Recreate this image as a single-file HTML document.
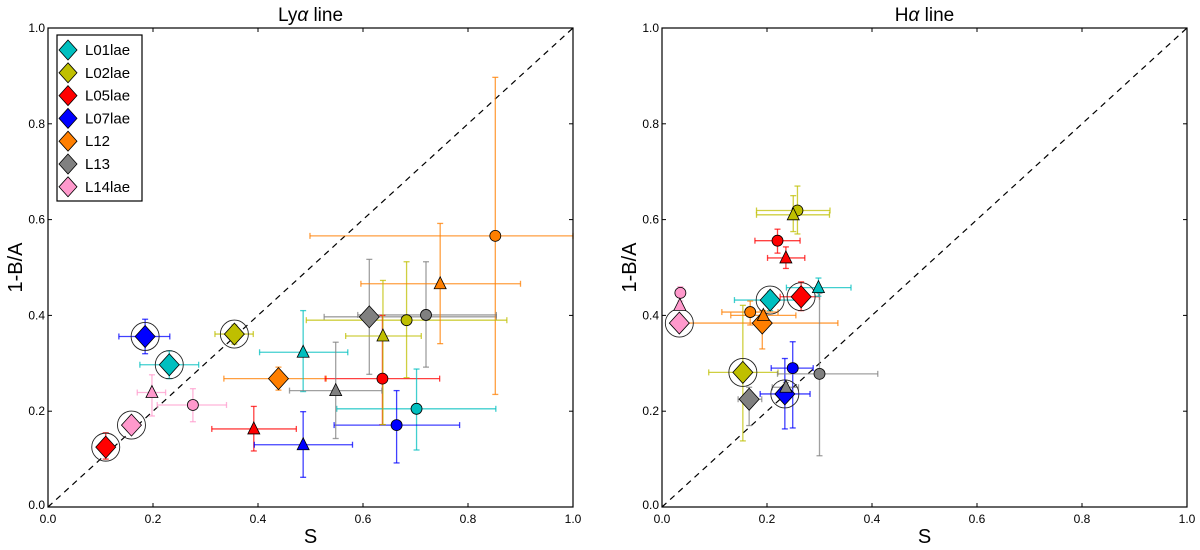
<!DOCTYPE html>
<html><head><meta charset="utf-8"><style>
body{margin:0;background:#fff;width:1200px;height:545px;overflow:hidden}
svg{font-family:"Liberation Sans","DejaVu Sans",sans-serif}
</style></head><body>
<svg id="chart" width="1200" height="545"></svg>
<script>
const groups=["L01lae","L02lae","L05lae","L07lae","L12","L13","L14lae"];
const colors={"L01lae":"#00bfbf","L02lae":"#bfbf00","L05lae":"#ff0000","L07lae":"#0000ff","L12":"#ff7f00","L13":"#808080","L14lae":"#ff99cc"};
const ticks=[0,0.2,0.4,0.6,0.8,1.0];
const tickLabels=["0.0","0.2","0.4","0.6","0.8","1.0"];
// Ly-alpha panel
const lyaGroup=["L01lae","L02lae","L05lae","L07lae","L12","L13","L14lae","L12","L02lae","L13","L05lae","L01lae","L07lae","L14lae","L12","L02lae","L01lae","L13","L05lae","L07lae","L14lae"];
const lyaMarker=["D","D","D","D","D","D","D","o","o","o","o","o","o","o","^","^","^","^","^","^","^"];
const lyaCircled=[1,1,1,1,0,0,1,0,0,0,0,0,0,0,0,0,0,0,0,0,0];
const lyaX=[0.231,0.355,0.110,0.185,0.439,0.612,0.159,0.852,0.683,0.720,0.637,0.702,0.664,0.276,0.747,0.638,0.486,0.548,0.392,0.486,0.198];
const lyaY=[0.297,0.361,0.125,0.356,0.268,0.397,0.171,0.566,0.390,0.401,0.268,0.205,0.171,0.213,0.466,0.357,0.323,0.243,0.163,0.130,0.239];
const lyaXlo=[0.175,0.318,0.110,0.135,0.335,0.526,0.159,0.499,0.492,0.590,0.528,0.550,0.545,0.208,0.596,0.567,0.403,0.460,0.312,0.393,0.170];
const lyaXhi=[0.287,0.391,0.110,0.232,0.530,0.854,0.159,1.000,0.874,0.854,0.746,0.853,0.784,0.340,0.900,0.711,0.571,0.636,0.473,0.580,0.224];
const lyaYlo=[0.268,0.340,0.100,0.320,0.244,0.277,0.171,0.235,0.270,0.292,0.172,0.119,0.092,0.178,0.341,0.172,0.241,0.143,0.117,0.062,0.190];
const lyaYhi=[0.326,0.380,0.155,0.392,0.292,0.517,0.171,0.897,0.512,0.512,0.400,0.288,0.243,0.247,0.592,0.473,0.410,0.344,0.210,0.199,0.276];
// H-alpha panel
const haGroup=["L01lae","L02lae","L05lae","L07lae","L12","L13","L14lae","L02lae","L05lae","L14lae","L12","L07lae","L13","L02lae","L05lae","L01lae","L14lae","L12","L13"];
const haMarker=["D","D","D","D","D","D","D","o","o","o","o","o","o","^","^","^","^","^","^"];
const haCircled=[1,1,1,1,0,0,1,0,0,0,0,0,0,0,0,0,0,0,0];
const haX=[0.206,0.154,0.265,0.234,0.191,0.166,0.033,0.258,0.220,0.035,0.168,0.249,0.300,0.250,0.236,0.298,0.034,0.193,0.236];
const haY=[0.432,0.281,0.439,0.236,0.384,0.225,0.384,0.619,0.556,0.447,0.407,0.290,0.278,0.610,0.520,0.458,0.421,0.400,0.250];
const haXlo=[0.138,0.089,0.225,0.187,0.043,0.145,0.033,0.180,0.177,0.035,0.114,0.208,0.220,0.180,0.201,0.237,0.034,0.131,0.210];
const haXhi=[0.270,0.221,0.300,0.282,0.335,0.190,0.033,0.320,0.263,0.035,0.221,0.288,0.411,0.319,0.272,0.360,0.034,0.255,0.260];
const haYlo=[0.410,0.138,0.410,0.163,0.330,0.170,0.384,0.570,0.530,0.430,0.380,0.165,0.107,0.575,0.498,0.440,0.421,0.380,0.240];
const haYhi=[0.450,0.421,0.470,0.310,0.410,0.250,0.384,0.670,0.580,0.460,0.430,0.345,0.446,0.650,0.543,0.478,0.421,0.410,0.260];

const NS="http://www.w3.org/2000/svg";
const svg=document.getElementById("chart");
function mk(tag,attrs,parent,text){const e=document.createElementNS(NS,tag);for(const k in attrs)e.setAttribute(k,attrs[k]);if(text!==undefined)e.textContent=text;(parent||svg).appendChild(e);return e;}

function panel(name,x0,title,G,M,C,X,Y,XL,XH,YL,YH,legend){
  const y0=28,w=525,h=479;
  const sx=v=>x0+v*w, sy=v=>y0+h-v*h;
  const g=mk("g",{});
  
  
  const t=mk("text",{x:x0+w/2,y:21,"text-anchor":"middle","font-size":"19"},g);
  
  
  t.innerHTML=title;
  // ticks
  ticks.forEach((v,i)=>{
    const xt=sx(v), yt=sy(v);
    mk("line",{x1:xt,y1:y0+h,x2:xt,y2:y0+h-4,stroke:"#000"},g);
    mk("line",{x1:xt,y1:y0,x2:xt,y2:y0+4,stroke:"#000"},g);
    mk("line",{x1:x0,y1:yt,x2:x0+4,y2:yt,stroke:"#000"},g);
    mk("line",{x1:x0+w,y1:yt,x2:x0+w-4,y2:yt,stroke:"#000"},g);
    const xl=mk("text",{x:xt,y:y0+h+16,"text-anchor":"middle","font-size":"12"},g,tickLabels[i]);
    
    
    const yl=mk("text",{x:x0-3,y:yt+(i==0?2:4),"text-anchor":"end","font-size":"12"},g,tickLabels[i]);
    
    
  });
  const xa=mk("text",{x:x0+w/2,y:543,"text-anchor":"middle","font-size":"20"},g,"S");
  
  
  const ya=mk("text",{x:0,y:0,"text-anchor":"middle","font-size":"20",transform:`translate(${x0-26},${y0+h/2}) rotate(-90)`},g,"1-B/A");
  
  
  // diagonal
  const d=mk("line",{x1:sx(0),y1:sy(0),x2:sx(1),y2:sy(1),stroke:"#000","stroke-dasharray":"6,5","stroke-width":"1.2"},g);
  
  
  // error bars
  for(let i=0;i<X.length;i++){
    const c=colors[G[i]];
    const eb=mk("g",{stroke:c,"stroke-width":"1.3","stroke-opacity":"0.75"},g);
    
    
    const cx=sx(X[i]),cy=sy(Y[i]);
    if(XH[i]>XL[i]){mk("line",{x1:sx(XL[i]),y1:cy,x2:sx(XH[i]),y2:cy},eb);
      mk("line",{x1:sx(XL[i]),y1:cy-3,x2:sx(XL[i]),y2:cy+3},eb);
      mk("line",{x1:sx(XH[i]),y1:cy-3,x2:sx(XH[i]),y2:cy+3},eb);}
    if(YH[i]>YL[i]){mk("line",{x1:cx,y1:sy(YL[i]),x2:cx,y2:sy(YH[i])},eb);
      mk("line",{x1:cx-3,y1:sy(YL[i]),x2:cx+3,y2:sy(YL[i])},eb);
      mk("line",{x1:cx-3,y1:sy(YH[i]),x2:cx+3,y2:sy(YH[i])},eb);}
  }
  // markers
  for(let i=0;i<X.length;i++){
    const c=colors[G[i]];const cx=sx(X[i]),cy=sy(Y[i]);
    let m;
    if(M[i]=="D"){
      if(C[i]){const r=mk("circle",{cx:cx,cy:cy,r:14,fill:"none",stroke:"#222","stroke-width":"0.9"},g);
        
        }
      m=mk("polygon",{points:`${cx},${cy-11} ${cx+10},${cy} ${cx},${cy+11} ${cx-10},${cy}`,fill:c,stroke:"#000","stroke-width":"0.8"},g);
    }else if(M[i]=="o"){
      m=mk("circle",{cx:cx,cy:cy,r:5.5,fill:c,stroke:"#000","stroke-width":"0.8"},g);
    }else{
      m=mk("polygon",{points:`${cx},${cy-7} ${cx+6},${cy+5} ${cx-6},${cy+5}`,fill:c,stroke:"#000","stroke-width":"0.8"},g);
    }
    
    
  }
  const fr=mk("rect",{x:x0,y:y0,width:w,height:h,fill:"none",stroke:"#000","stroke-width":"1.2"},g);
  
  
  if(legend){
    const lg=mk("g",{},g);
    
    
    mk("rect",{x:57,y:35,width:85,height:166,fill:"#fff",stroke:"#000","stroke-width":"1.2"},lg);
    groups.forEach((gn,i)=>{
      const cy=50+i*22.8,cx=68;
      const e=mk("g",{},lg);
      
      
      mk("polygon",{points:`${cx},${cy-10} ${cx+9},${cy} ${cx},${cy+10} ${cx-9},${cy}`,fill:colors[gn],stroke:"#000","stroke-width":"0.8"},e);
      mk("text",{x:85,y:cy+5,"font-size":"15"},e,gn);
    });
  }
}
panel("lya",48,"Ly<tspan font-style='italic'>α</tspan> line",lyaGroup,lyaMarker,lyaCircled,lyaX,lyaY,lyaXlo,lyaXhi,lyaYlo,lyaYhi,true);
panel("ha",662,"H<tspan font-style='italic'>α</tspan> line",haGroup,haMarker,haCircled,haX,haY,haXlo,haXhi,haYlo,haYhi,false);
</script>
</body></html>
